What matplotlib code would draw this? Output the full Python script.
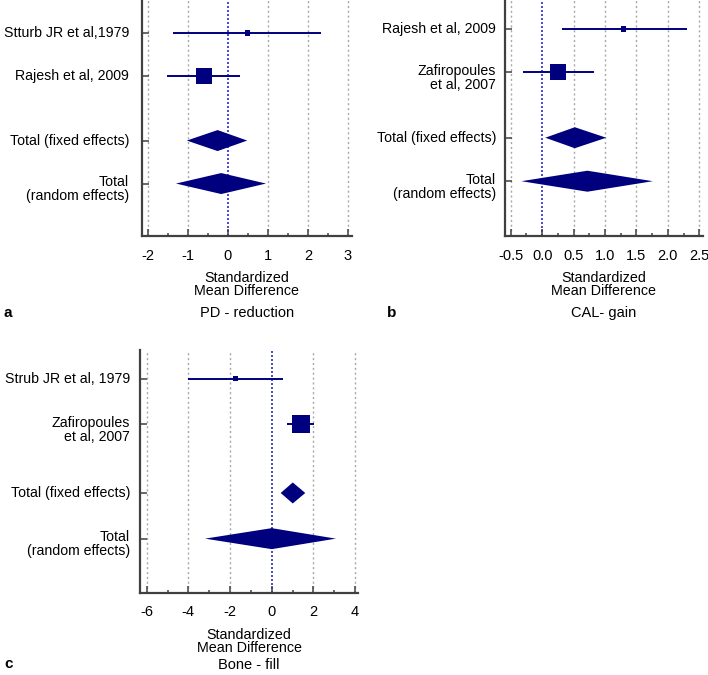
import matplotlib
matplotlib.use("Agg")
import matplotlib.pyplot as plt
from matplotlib.patches import Polygon
import matplotlib.transforms as mtransforms
import numpy as np

plt.rcParams['font.family'] = ['Liberation Sans', 'DejaVu Sans']

NAVY = '#00007f'

# ---- Data ----
# Panel a: PD - reduction
a_labels = ["Stturb JR et al,1979", "Rajesh et al, 2009"]
a_est = [0.48, -0.60]
a_lo = [-1.37, -1.52]
a_hi = [2.32, 0.29]
a_wt = [0.33, 1.0]
a_fixed = (-0.26, -1.03, 0.48)
a_random = (-0.17, -1.30, 0.95)
a_ticks = [-2, -1, 0, 1, 2, 3]

# Panel b: CAL - gain
b_labels = ["Rajesh et al, 2009", "Zafiropoules\net al, 2007"]
b_est = [1.30, 0.26]
b_lo = [0.31, -0.30]
b_hi = [2.30, 0.82]
b_wt = [0.33, 1.0]
b_fixed = (0.52, 0.05, 1.02)
b_random = (0.72, -0.33, 1.76)
b_ticks = [-0.5, 0.0, 0.5, 1.0, 1.5, 2.0, 2.5]

# Panel c: Bone - fill
c_labels = ["Strub JR et al, 1979", "Zafiropoules\net al, 2007"]
c_est = [-1.73, 1.39]
c_lo = [-4.00, 0.75]
c_hi = [0.53, 2.03]
c_wt = [0.33, 1.12]
c_fixed = (1.01, 0.43, 1.61)
c_random = (0.00, -3.20, 3.08)
c_ticks = [-6, -4, -2, 0, 2, 4]

total_labels = ["Total (fixed effects)", "Total\n(random effects)"]

W, H = 708, 675
fig = plt.figure(figsize=(W / 100, H / 100), dpi=100)


def make_axes(left, right, top, bottom):
    return fig.add_axes([left / W, 1 - bottom / H, (right - left) / W, (bottom - top) / H])


def forest(ax, labels, est, lo, hi, wt, fixed, random, ticks, xlim, ylim,
           minor_step, fmt, caption, box_px, ypad_px, cap_off):
    ax.set_xlim(*xlim)
    ax.set_ylim(*ylim)
    rows = [0, 1, 2.5, 3.5]
    for t in ticks:
        if abs(t) < 1e-9:
            ax.axvline(t, color='#2a2acc', lw=1.2, ls=(0, (1.2, 1.2)), zorder=1)
        else:
            ax.axvline(t, color='#a8a8a8', lw=1.0, ls=(0, (1.5, 2)), zorder=1)
    bbox = ax.get_window_extent()
    xpp = (xlim[1] - xlim[0]) / bbox.width
    ypp = (ylim[0] - ylim[1]) / bbox.height
    for i in range(len(est)):
        y = rows[i]
        ax.plot([lo[i], hi[i]], [y, y], color=NAVY, lw=1.4, zorder=3,
                solid_capstyle='butt')
        half = box_px * wt[i] / 2
        ax.add_patch(plt.Rectangle((est[i] - half * xpp, y - half * ypp),
                                   2 * half * xpp, 2 * half * ypp,
                                   color=NAVY, zorder=4, lw=0))
    for (c, l, h), y in zip([fixed, random], rows[2:]):
        hh = 10.5 * ypp
        ax.add_patch(Polygon([[l, y], [c, y - hh], [h, y], [c, y + hh]],
                             closed=True, color=NAVY, lw=0, zorder=4))
    ax.set_yticks(rows)
    ax.set_yticklabels([])
    ytrans = ax.get_yaxis_transform()
    for lab, y in zip(labels + total_labels, rows):
        dy = -5.5 if "\n" in lab else 0
        off = mtransforms.ScaledTranslation(-ypad_px / 100, dy / 100, fig.dpi_scale_trans)
        ax.text(0, y, lab, transform=ytrans + off, ha='right', va='center',
                fontsize=10.2, linespacing=1.0, multialignment='right')
    ax.set_xticks(ticks)
    ax.set_xticklabels([fmt.format(t) for t in ticks], fontsize=10.5)
    ax.set_xticks(np.arange(ticks[0] + minor_step, ticks[-1], minor_step * 2), minor=True)
    ax.tick_params(axis='x', which='major', direction='in', length=5, width=1.1,
                   color='#404040', pad=9)
    ax.tick_params(axis='x', which='minor', direction='in', length=2.5, width=1.1,
                   color='#404040')
    ax.tick_params(axis='y', direction='in', length=5, width=1.1, color='#404040')
    for s in ['top', 'right']:
        ax.spines[s].set_visible(False)
    for s in ['left', 'bottom']:
        ax.spines[s].set_color('#404040')
        ax.spines[s].set_linewidth(1.6)
    bb = ax.get_position()
    cx = (bb.x0 + bb.x1) / 2
    y0 = bb.y0
    fig.text(cx, y0 - 35 / H, "Standardized\nMean Difference", ha='center', va='top',
             fontsize=10.3, linespacing=0.92)
    fig.text(cx, y0 - cap_off / H, caption, ha='center', va='center', fontsize=10.5)


axa = make_axes(142, 352, 0, 236)
forest(axa, a_labels, a_est, a_lo, a_hi, a_wt, a_fixed, a_random, a_ticks,
       (-2.15, 3.1), (4.72, -0.77), 0.5, "{:g}", "PD - reduction", 16, 13, 77)
fig.text(3 / W, 1 - 313 / H, "a", fontsize=11, fontweight='bold', ha='left', va='center')

axb = make_axes(504.7, 703, 0, 236)
forest(axb, b_labels, b_est, b_lo, b_hi, b_wt, b_fixed, b_random, b_ticks,
       (-0.596, 2.56), (4.76, -0.667), 0.25, "{:.1f}", "CAL- gain", 16, 8.5, 77)
fig.text(387 / W, 1 - 313 / H, "b", fontsize=11, fontweight='bold', ha='left', va='center')

axc = make_axes(140, 358, 350, 593)
forest(axc, c_labels, c_est, c_lo, c_hi, c_wt, c_fixed, c_random, c_ticks,
       (-6.32, 4.14), (4.69, -0.63), 1.0, "{:g}", "Bone - fill", 16, 10, 72)
fig.text(4 / W, 1 - 664 / H, "c", fontsize=11, fontweight='bold', ha='left', va='center')

fig.savefig("out.png", dpi=100, facecolor='white')
